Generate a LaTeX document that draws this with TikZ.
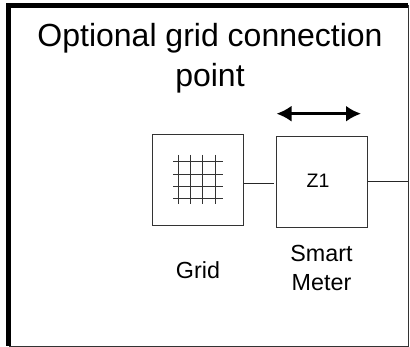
\documentclass[tikz,border=0pt]{standalone}
\usepackage{fontspec}
\setmainfont{Liberation Sans}
\usetikzlibrary{arrows.meta}
\tikzset{
  boxnode/.style={draw=black!80,line width=0.75pt,minimum width=90.5pt,minimum height=91pt,inner sep=0pt,anchor=center},
  label/.style={inner sep=0pt,align=center,font=\fontsize{23.3pt}{29pt}\selectfont},
  smalllabel/.style={inner sep=0pt,align=center,font=\fontsize{19.5pt}{23pt}\selectfont},
  titletext/.style={inner sep=0pt,align=center,font=\fontsize{32pt}{40pt}\selectfont},
  wire/.style={draw=black!85,line width=0.8pt},
  mesh/.style={draw=black!80,line width=0.7pt},
  frame/.style={draw=black!80,line width=0.8pt},
  thick frame/.style={draw=black,line width=5pt}
}
\begin{document}
\begin{tikzpicture}[x=1pt,y=-1pt]
\useasboundingbox (0,0) rectangle (410,347);
\fill[white] (0,0) rectangle (410,347);
\coordinate (tl) at (8.5,5.5);
\coordinate (tr) at (408,5.5);
\coordinate (bl) at (8.5,346);
\coordinate (br) at (408,346);
\draw[frame] (tr) -- (br) -- (bl);
\draw[thick frame] (bl) -- (tl) -- (tr);
\node[titletext] (title) at (210,58.5) {Optional grid connection\\point};
\node[boxnode] (grid) at (198,179.5) {};
\node[boxnode] (z1) at (322,181.5) {};
\node[smalllabel] (z1text) at (318,180.5) {Z1};
\node[label] (gridtext) at (198,270) {Grid};
\node[label] (metertext) at (321.5,268) {Smart\\Meter};
\coordinate (a1) at (276.5,113.7);
\coordinate (a2) at (361,113.7);
\draw[black,line width=2.6pt,{Latex[length=15pt,width=16pt]}-{Latex[length=15pt,width=16pt]}] (a1) -- (a2);
\coordinate (w1) at (274,183.7);
\draw[wire] (grid.east |- w1) -- (w1);
\coordinate (w2) at (408,181);
\draw[wire] (z1.east |- w2) -- (w2);
\foreach \x/\n in {178.7/a,190.8/b,202.8/c,215/d}{
  \coordinate (v\n1) at (\x,155);
  \coordinate (v\n2) at (\x,204);
  \draw[mesh] (v\n1) -- (v\n2);
}
\foreach \y/\n in {161.3/a,174/b,186/c,198.5/d}{
  \coordinate (h\n1) at (173.3,\y);
  \coordinate (h\n2) at (222.7,\y);
  \draw[mesh] (h\n1) -- (h\n2);
}
\end{tikzpicture}
\end{document}
